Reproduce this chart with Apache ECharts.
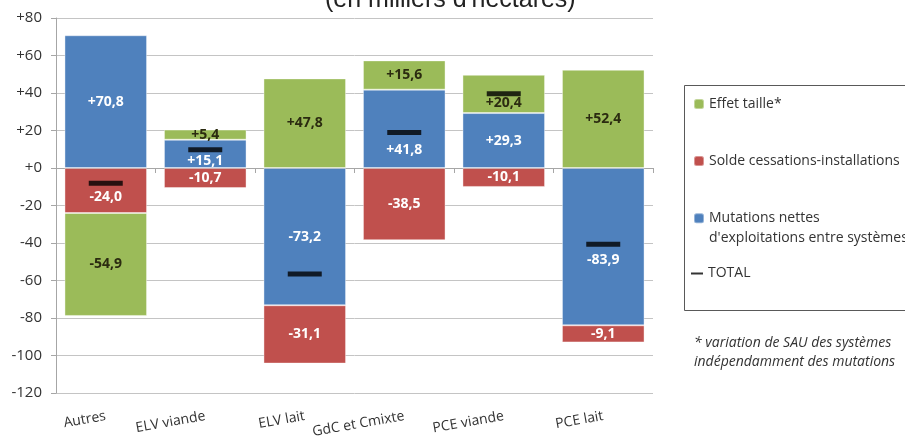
<!DOCTYPE html>
<html>
<head>
<meta charset="utf-8">
<script src="https://cdn.jsdelivr.net/npm/echarts@6/dist/echarts.min.js"></script>
<style>html,body{margin:0;padding:0;background:#fff}#c{width:905px;height:441px}</style>
</head>
<body>
<div id="c"></div>
<script>
const categories = ['Autres', 'ELV viande', 'ELV lait', 'GdC et Cmixte', 'PCE viande', 'PCE lait'];
const mutations = [70.8, 15.1, -73.2, 41.8, 29.3, -83.9];
const solde = [-24.0, -10.7, -31.1, -38.5, -10.1, -9.1];
const effetTaille = [-54.9, 5.4, 47.8, 15.6, 20.4, 52.4];
const total = [-8.1, 9.8, -56.5, 18.9, 39.6, -40.6];
const yTicks = { min: -120, max: 80, interval: 20 };

// label nudges (px, downward) so value labels clear the TOTAL markers, as in the original
const labelNudge = {
  mutations: [0, 7, 0, 21, 0, 13],
  solde: [7, 0, 0, 0, 0, 0],
  effet: [0, 0, 0, 0, 9, 0]
};

const FONT = '"Open Sans", "Liberation Sans", sans-serif';
function fmt(v) { return (v > 0 ? '+' : '') + v.toFixed(1).replace('.', ','); }

const chart = echarts.init(document.getElementById('c'));
const barLabel = (color) => ({
  show: true, position: 'inside', color: color, fontFamily: FONT, fontSize: 14, fontWeight: 'bold',
  formatter: p => fmt(p.value)
});
const withNudge = (vals, nudge) => vals.map((v, i) => ({ value: v, label: { offset: [0, nudge[i]] } }));

const legendText = { fontFamily: FONT, fontSize: 14, color: '#333' };

chart.setOption({
  animation: false,
  title: {
    text: "(en milliers d'hectares)", left: 320, top: -17,
    textStyle: { fontFamily: '"Liberation Sans", Arial, sans-serif', fontSize: 25, fontWeight: 'normal', color: '#222' }
  },
  grid: { left: 56, right: 252, top: 18, bottom: 48, containLabel: false },
  legend: [
    { data: ['Effet taille*'], orient: 'vertical', left: 693, top: 97, padding: 0, itemWidth: 10, itemHeight: 10, selectedMode: false,
      textStyle: legendText },
    { data: ['Solde cessations-installations'], orient: 'vertical', left: 693, top: 154, padding: 0, itemWidth: 10, itemHeight: 10, selectedMode: false,
      textStyle: legendText },
    { data: ["Mutations nettes\nd'exploitations entre systèmes"], orient: 'vertical', left: 693, top: 189, padding: 0, itemWidth: 10, itemHeight: 10, selectedMode: false,
      formatter: name => '\n' + name,
      textStyle: Object.assign({ lineHeight: 19.5 }, legendText) },
    { data: [{ name: 'TOTAL', icon: 'rect' }], orient: 'vertical', left: 691, top: 266.5, padding: 0, itemWidth: 12, itemHeight: 2, selectedMode: false,
      textStyle: legendText }
  ],
  graphic: [
    { type: 'rect', shape: { x: 684.5, y: 85.5, width: 300, height: 225 }, style: { fill: 'none', stroke: '#595959', lineWidth: 1 }, silent: true },
    { type: 'text', left: 694, top: 334, style: { text: '* variation de SAU des systèmes\nindépendamment des mutations', fontFamily: FONT, fontSize: 14, fontStyle: 'italic', fill: '#333', lineHeight: 19 } }
  ],
  xAxis: [
    { type: 'category', data: categories, position: 'bottom', axisLine: { show: false, onZero: false }, axisTick: { show: false },
      axisLabel: { rotate: 10, margin: 23, interval: 0, fontFamily: FONT, fontSize: 14, color: '#333' } },
    { type: 'category', data: categories, position: 'bottom', axisLine: { show: true, onZero: true, lineStyle: { color: '#a6a6a6' } },
      axisTick: { show: true, length: 5, interval: 0, lineStyle: { color: '#a6a6a6' } }, axisLabel: { show: false } }
  ],
  yAxis: {
    type: 'value', min: yTicks.min, max: yTicks.max, interval: yTicks.interval,
    axisLine: { show: true, lineStyle: { color: '#a6a6a6' } },
    axisTick: { show: true, length: 5, lineStyle: { color: '#a6a6a6' } },
    splitLine: { lineStyle: { color: '#c4c4c4' } },
    axisLabel: { fontFamily: FONT, fontSize: 15, color: '#333', margin: 14, formatter: v => (v >= 0 ? '+' + v : '' + v) }
  },
  series: [
    { name: "Mutations nettes\nd'exploitations entre systèmes", type: 'bar', stack: 's', data: withNudge(mutations, labelNudge.mutations), barCategoryGap: '17%',
      itemStyle: { color: '#4f81bd', borderColor: 'rgba(255,255,255,0.4)', borderWidth: 1 }, label: barLabel('#fff') },
    { name: 'Solde cessations-installations', type: 'bar', stack: 's', data: withNudge(solde, labelNudge.solde),
      itemStyle: { color: '#c0504d', borderColor: 'rgba(255,255,255,0.4)', borderWidth: 1 }, label: barLabel('#fff') },
    { name: 'Effet taille*', type: 'bar', stack: 's', data: withNudge(effetTaille, labelNudge.effet),
      itemStyle: { color: '#9bbb59', borderColor: 'rgba(255,255,255,0.4)', borderWidth: 1 }, label: barLabel('#2b2b10') },
    { name: 'TOTAL', type: 'scatter', data: total, symbol: 'rect', symbolSize: [34, 5], z: 10,
      itemStyle: { color: '#000' } }
  ]
});
</script>
</body>
</html>
